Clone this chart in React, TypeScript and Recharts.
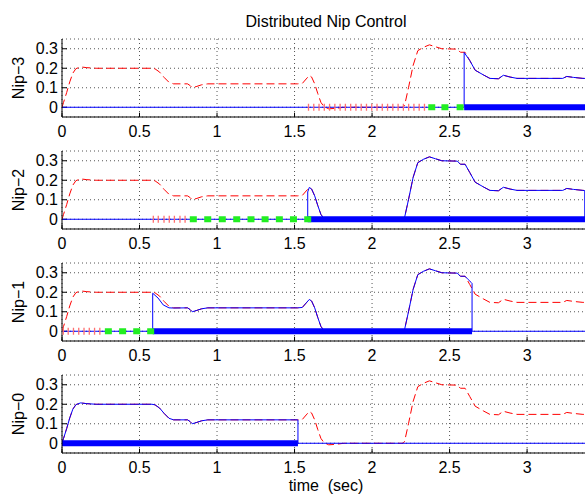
import { CartesianGrid, ComposedChart, Line, ReferenceLine, Scatter, XAxis, YAxis } from "recharts";

type P = number[][];

const xTicks = [0, 0.5, 1, 1.5, 2, 2.5, 3];
const yTicks = [0, 0.1, 0.2, 0.3];
const nipLabels = ["Nip−3", "Nip−2", "Nip−1", "Nip−0"];

// reference nip profile, pieces of (time, value)
const rampUp: P = [[0, 0], [0.01, 0.025], [0.03, 0.075], [0.05, 0.13], [0.07, 0.175], [0.09, 0.198], [0.12, 0.207], [0.16, 0.203], [0.22, 0.2], [0.58, 0.2]];
const drop1: P = [[0.6, 0.197], [0.63, 0.18], [0.66, 0.152], [0.69, 0.128], [0.72, 0.12]];
const dip1: P = [[0.81, 0.12], [0.825, 0.112], [0.84, 0.1], [0.87, 0.107], [0.9, 0.115], [0.94, 0.12], [1.52, 0.12]];
const bump: P = [[1.55, 0.122], [1.575, 0.145], [1.595, 0.163]];
const fall: P = [[1.61, 0.155], [1.63, 0.12], [1.65, 0.07], [1.67, 0.025], [1.69, 0.003], [1.72, -0.008], [1.76, -0.006], [1.82, 0], [2.2, 0]];
const rampHigh: P = [[2.21, 0.01], [2.235, 0.1], [2.265, 0.215], [2.295, 0.29], [2.33, 0.307], [2.37, 0.32], [2.41, 0.31], [2.45, 0.3], [2.55, 0.298], [2.57, 0.282], [2.6, 0.282]];
const settle2: P = [[2.63, 0.24], [2.665, 0.19], [2.72, 0.165], [2.76, 0.148], [2.815, 0.146], [2.847, 0.164], [2.89, 0.155], [2.935, 0.148], [3.23, 0.148], [3.256, 0.158], [3.3, 0.153], [3.36, 0.148]];
const endPt: P = [[3.38, 0.148]];

const reference: P = [...rampUp, ...drop1, ...dip1, ...bump, ...fall, ...rampHigh, ...settle2, ...endPt];

// measured nip force per nip
const nip3: P = [[0, 0], [2.594, 0], [2.594, 0.281], ...settle2, ...endPt];
const nip2: P = [[0, 0], [1.585, 0], [1.585, 0.14], [1.595, 0.163], ...fall, ...rampHigh, ...settle2, [3.372, 0.147], [3.372, 0]];
const nip1: P = [[0, 0], [0.585, 0], [0.585, 0.195], [0.62, 0.17], [0.653, 0.135], [0.69, 0.12], [0.72, 0.119], ...dip1, ...bump, ...fall, ...rampHigh, [2.62, 0.265], [2.64, 0.25], [2.645, 0.245], [2.645, 0], [3.38, 0]];
const nip0: P = [...rampUp, ...drop1, ...dip1, [1.522, 0.12], [1.522, 0], [3.38, 0]];

// state bars: closed (thick), waiting (green), pending (pink)
const closed: P[] = [
  [[2.594, 0], [3.38, 0]],
  [[1.585, 0], [3.38, 0]],
  [[0.585, 0], [2.645, 0]],
  [[0, 0], [1.522, 0]],
];
const waiting: number[][] = [
  [2.385, 2.47, 2.568],
  [0.847, 0.94, 1.034, 1.127, 1.219, 1.31, 1.402, 1.493, 1.585],
  [0.299, 0.391, 0.482, 0.572],
  [],
];
const pending: number[][] = [
  [1.59, 1.624, 1.658, 1.692, 1.726, 1.76, 1.794, 1.828, 1.862, 1.896, 1.93, 1.964, 1.998, 2.032, 2.066, 2.1, 2.134, 2.168, 2.202, 2.236, 2.27, 2.304, 2.338],
  [0.589, 0.621, 0.658, 0.692, 0.725, 0.761, 0.794],
  [0.008, 0.04, 0.074, 0.108, 0.142, 0.176, 0.21, 0.244],
  [],
];
const measured: P[] = [nip3, nip2, nip1, nip0];

const pts = (a: P) => a.map(([t, v]) => ({ t, v }));
const zeros = (a: number[]) => a.map((t) => ({ t, v: 0 }));

const FONT = "'Liberation Sans', Arial, Helvetica, sans-serif";
const tops = [34, 146, 258, 370];

const XTick = (p: any) => (
  <text x={p.x} y={p.y + 20} textAnchor="middle" fontSize={16} fill="#000" fontFamily={FONT}>
    {p.payload.value}
  </text>
);
const YTick = (p: any) => (
  <text x={p.x - 4} y={p.y + 5.7} textAnchor="end" fontSize={16} fill="#000" fontFamily={FONT}>
    {p.payload.value}
  </text>
);
const PinkTick = (p: any) => (
  <line x1={p.cx} x2={p.cx} y1={p.cy - 3.5} y2={p.cy + 3.5} stroke="#ff7070" strokeWidth={1.3} />
);
const GreenSq = (p: any) => <rect x={p.cx - 3.5} y={p.cy - 3} width={7} height={6} fill="#22ee22" />;

function Panel({ i }: { i: number }) {
  return (
    <ComposedChart width={586} height={112} margin={{ top: 5, right: 0, bottom: 0, left: 0 }}>
      <CartesianGrid stroke="#555" strokeDasharray="1 3" />
      <XAxis
        type="number"
        dataKey="t"
        domain={[0, 3.38]}
        ticks={xTicks}
        interval={0}
        height={29}
        tickSize={0}
        tickMargin={0}
        tickLine={false}
        tick={XTick}
        axisLine={{ stroke: "#000" }}
        allowDataOverflow
      />
      <YAxis
        type="number"
        dataKey="v"
        domain={[-0.05, 0.35]}
        ticks={yTicks}
        interval={0}
        width={62}
        tickSize={0}
        tickMargin={0}
        tickLine={false}
        tick={YTick}
        axisLine={{ stroke: "#000" }}
        allowDataOverflow
        label={{
          value: nipLabels[i],
          angle: -90,
          position: "insideLeft",
          offset: 18,
          style: { textAnchor: "middle", fontSize: 16, fill: "#000", fontFamily: FONT },
        }}
      />
      {xTicks.map((t) => (
        <ReferenceLine key={"x" + t} segment={[{ x: t, y: -0.05 }, { x: t, y: -0.028 }]} stroke="#000" ifOverflow="visible" />
      ))}
      {yTicks.map((v) => (
        <ReferenceLine key={"y" + v} segment={[{ x: 0, y: v }, { x: 0.032, y: v }]} stroke="#000" ifOverflow="visible" />
      ))}
      <Line data={pts(reference)} dataKey="v" type="linear" stroke="#ff0000" strokeWidth={1} strokeDasharray="8 4" dot={false} isAnimationActive={false} />
      <Scatter data={zeros(pending[i])} dataKey="v" shape={PinkTick} isAnimationActive={false} />
      <Line data={pts(measured[i])} dataKey="v" type="linear" stroke="#0000ff" strokeWidth={1} dot={false} isAnimationActive={false} />
      <Scatter data={zeros(waiting[i])} dataKey="v" shape={GreenSq} isAnimationActive={false} />
      <Line data={pts(closed[i])} dataKey="v" type="linear" stroke="#0000ff" strokeWidth={6} dot={false} isAnimationActive={false} />
    </ComposedChart>
  );
}

export default function App() {
  return (
    <div style={{ position: "absolute", left: 0, top: 0, width: 585, height: 494, overflow: "hidden", background: "#fff" }}>
      <svg width={585} height={494} style={{ position: "absolute", left: 0, top: 0 }}>
        <text x={326} y={26.5} textAnchor="middle" fontSize={16} fontFamily={FONT} fill="#000">
          Distributed Nip Control
        </text>
        <text x={326} y={491} textAnchor="middle" fontSize={16} fontFamily={FONT} fill="#000" style={{ whiteSpace: "pre" }}>
          time  (sec)
        </text>
      </svg>
      {tops.map((top, i) => (
        <div key={i} style={{ position: "absolute", left: 0, top }}>
          <Panel i={i} />
        </div>
      ))}
    </div>
  );
}
